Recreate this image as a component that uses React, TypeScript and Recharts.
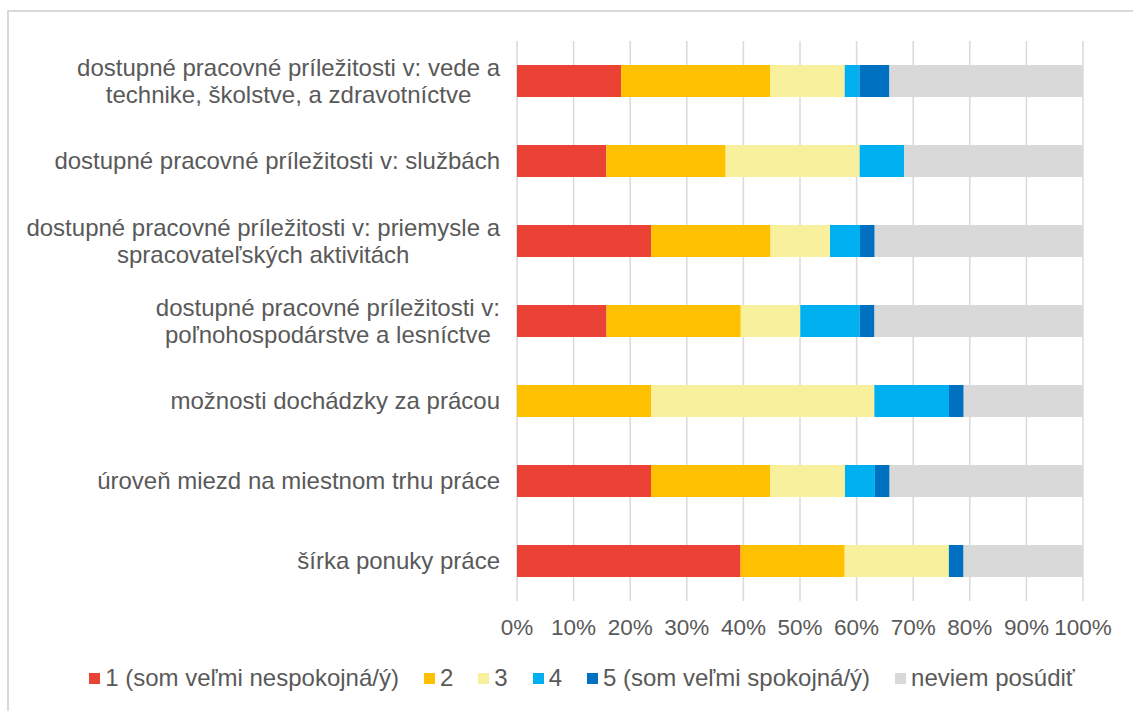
import React from 'react';
import { BarChart, Bar, XAxis, YAxis, CartesianGrid } from 'recharts';

const categories = [
  'dostupné pracovné príležitosti v: vede a\ntechnike, školstve, a zdravotníctve',
  'dostupné pracovné príležitosti v: službách',
  'dostupné pracovné príležitosti v: priemysle a\nspracovateľských aktivitách',
  'dostupné pracovné príležitosti v:\npoľnohospodárstve a lesníctve',
  'možnosti dochádzky za prácou',
  'úroveň miezd na miestnom trhu práce',
  'šírka ponuky práce',
];

// share of answers in %
const veryUnhappy = [18.4, 15.8, 23.7, 15.8, 0, 23.7, 39.5];
const two = [26.3, 21.1, 21.1, 23.7, 23.7, 21.1, 18.4];
const three = [13.2, 23.7, 10.5, 10.5, 39.5, 13.2, 18.4];
const four = [2.6, 7.9, 5.3, 10.5, 13.2, 5.3, 0];
const veryHappy = [5.3, 0, 2.6, 2.6, 2.6, 2.6, 2.6];
const cantSay = [34.2, 31.6, 36.8, 36.8, 21.1, 34.2, 21.1];

const xTicks = [0, 0.1, 0.2, 0.3, 0.4, 0.5, 0.6, 0.7, 0.8, 0.9, 1];

const series = [
  { key: 's1', name: '1 (som veľmi nespokojná/ý)', color: '#EA4335', values: veryUnhappy },
  { key: 's2', name: '2', color: '#FFC000', values: two },
  { key: 's3', name: '3', color: '#F8F09C', values: three },
  { key: 's4', name: '4', color: '#00B0F0', values: four },
  { key: 's5', name: '5 (som veľmi spokojná/ý)', color: '#0070C0', values: veryHappy },
  { key: 's6', name: 'neviem posúdiť', color: '#D9D9D9', values: cantSay },
];

const data = categories.map((c, i) => {
  const row: Record<string, string | number> = { name: c };
  series.forEach(s => { row[s.key] = s.values[i]; });
  return row;
});

const FONT = '"Liberation Sans", Arial, sans-serif';
const TEXT = '#595959';
const LABEL_SIZE = 24;
const LABEL_RIGHT = 500;

let ctx: CanvasRenderingContext2D | null = null;
const measure = (s: string) => {
  if (!ctx) ctx = document.createElement('canvas').getContext('2d');
  if (!ctx) return s.length * LABEL_SIZE * 0.5;
  ctx.font = `${LABEL_SIZE}px "Liberation Sans"`;
  return ctx.measureText(s).width;
};

const CategoryTick = (props: any) => {
  const { y, payload } = props;
  const lines: string[] = String(payload.value).split('\n');
  const widest = Math.max(...lines.map(measure));
  const cx = LABEL_RIGHT - widest / 2;
  const lh = 27;
  const y0 = y - ((lines.length - 1) * lh) / 2;
  return (
    <g>
      {lines.map((l, i) => (
        <text key={i} x={cx} y={y0 + i * lh} dy="0.35em" textAnchor="middle"
          fill={TEXT} fontSize={LABEL_SIZE} fontFamily={FONT}>{l}</text>
      ))}
    </g>
  );
};

const PercentTick = (props: any) => {
  const { x, y, payload } = props;
  return (
    <text x={x} y={y} dy="0.71em" textAnchor="middle" fill={TEXT} fontSize={22.5} fontFamily={FONT}>
      {Math.round(payload.value * 100)}%
    </text>
  );
};

export default function App() {
  return (
    <div style={{ position: 'absolute', left: 0, top: 0, width: 1133, height: 711, background: '#fff', overflow: 'hidden' }}>
      <div style={{ position: 'absolute', left: 7, top: 10, width: 1140, height: 720, borderTop: '2px solid #D9D9D9', borderLeft: '2px solid #D9D9D9' }} />
      <div style={{ position: 'absolute', left: 0, top: 0 }}>
        <BarChart width={1133} height={711} data={data} layout="vertical" stackOffset="expand"
          margin={{ top: 41, right: 50, left: 0, bottom: 80 }} barCategoryGap={24}>
          <CartesianGrid horizontal={false} stroke="#D9D9D9" strokeWidth={1.5} />
          <XAxis type="number" domain={[0, 1]} ticks={xTicks} interval={0} axisLine={false} tickLine={false}
            height={30} tick={<PercentTick />} tickMargin={12} />
          <YAxis type="category" dataKey="name" width={517} axisLine={false} tickLine={false} interval={0}
            tick={<CategoryTick />} />
          {series.map(s => (
            <Bar key={s.key} dataKey={s.key} name={s.name} stackId="a" fill={s.color} barSize={32} isAnimationActive={false} />
          ))}
        </BarChart>
      </div>
      <div style={{ position: 'absolute', left: 30, top: 664, width: 1104, display: 'flex', justifyContent: 'center', alignItems: 'center', fontFamily: FONT, fontSize: 24, color: TEXT, whiteSpace: 'nowrap' }}>
        {series.map((s, i) => (
          <div key={s.key} style={{ display: 'flex', alignItems: 'center', marginLeft: i === 0 ? 0 : 25 }}>
            <span style={{ display: 'inline-block', width: 11, height: 11, background: s.color, marginRight: 5 }} />
            <span>{s.name}</span>
          </div>
        ))}
      </div>
    </div>
  );
}
